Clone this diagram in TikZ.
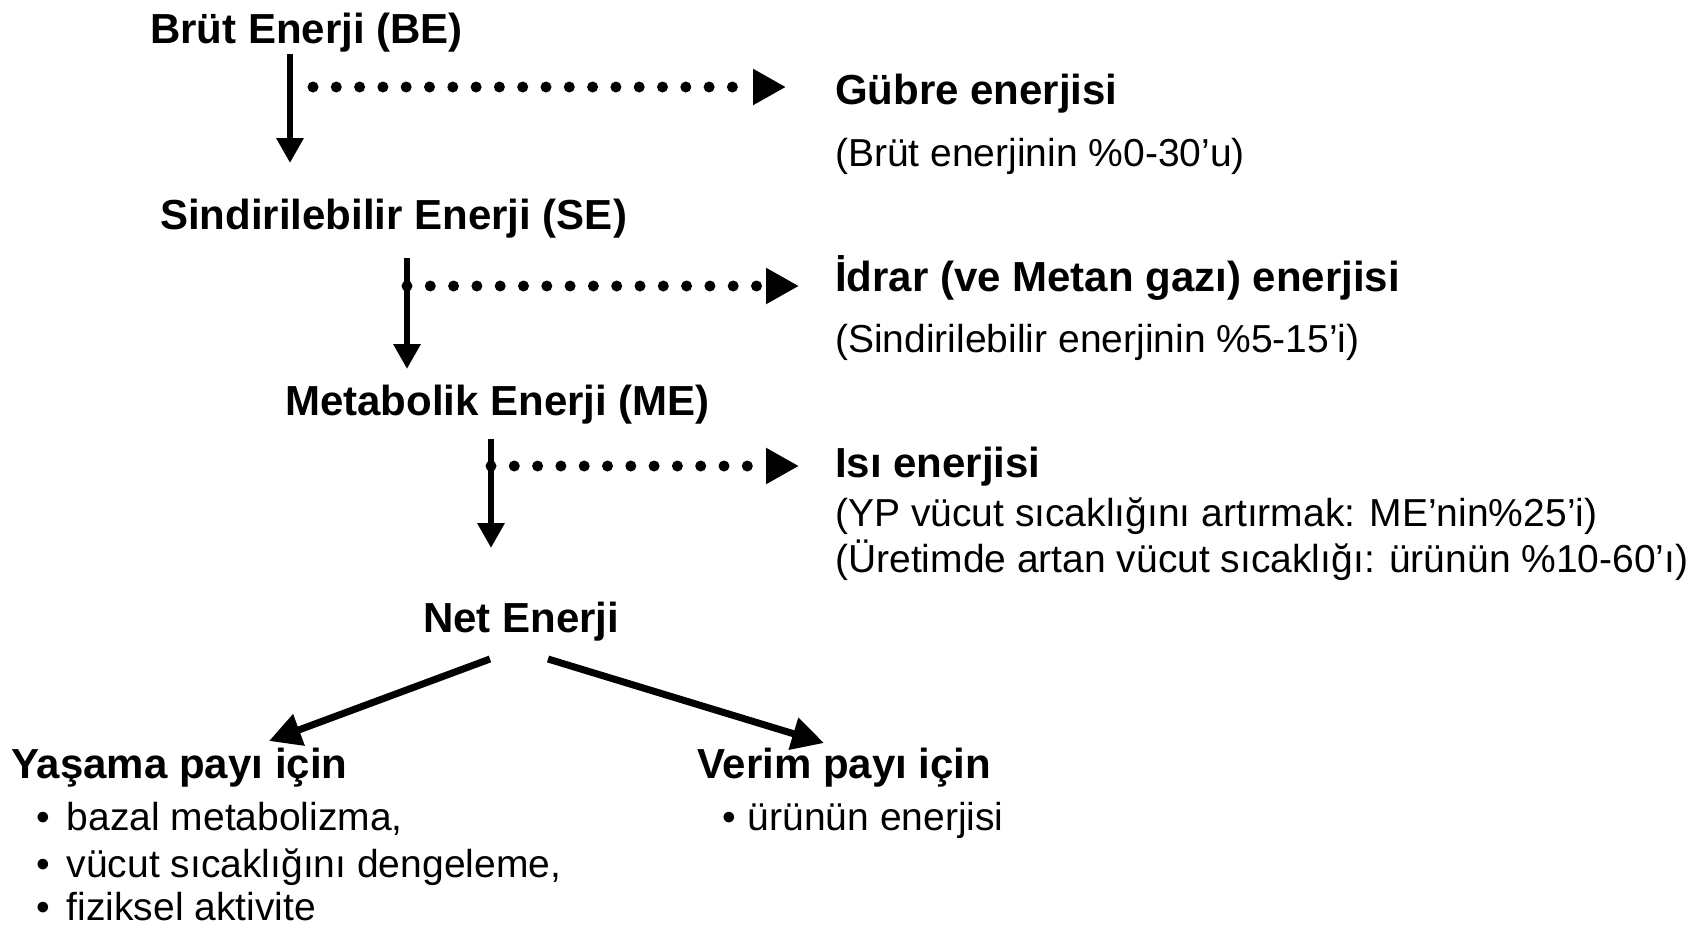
\documentclass[tikz,border=0pt]{standalone}
\usepackage{fontspec}
\setmainfont{Liberation Sans}
\usetikzlibrary{arrows.meta}
\begin{document}
\begin{tikzpicture}[x=1pt,y=-1pt,
  boldtxt/.style={font=\fontsize{42}{48}\selectfont\bfseries, anchor=base west, inner sep=0pt},
  regtxt/.style={font=\fontsize{39}{45}\selectfont, anchor=base west, inner sep=0pt},
  downarrow/.style={line width=6.5pt, -{Triangle[length=25pt,width=26pt]}},
  dotarrow/.style={line width=11pt, line cap=round, dash pattern=on 0pt off 23.3pt, -{Triangle[length=33pt,width=34pt]}},
  splitarrow/.style={line width=7pt, -{Triangle[length=32pt,width=32pt]}}]
\useasboundingbox (0,0) rectangle (1700,927);

% main chain
\node[boldtxt] (BE) at (150,43) {Brüt Enerji (BE)};
\node[boldtxt] (SE) at (160,229) {Sindirilebilir Enerji (SE)};
\node[boldtxt] (ME) at (285,415) {Metabolik Enerji (ME)};
\node[boldtxt] (NE) at (423,632) {Net Enerji};

% losses
\node[boldtxt] (G) at (835,104) {Gübre enerjisi};
\node[regtxt] (Gd) at (835,166) {(Brüt enerjinin \%0-30’u)};
\node[boldtxt] (I) at (835,291) {İdrar (ve Metan gazı) enerjisi};
\node[regtxt] (Id) at (835,352) {(Sindirilebilir enerjinin \%5-15’i)};
\node[boldtxt] (H) at (835,477) {Isı enerjisi};
\node[regtxt] (Hd1) at (835,526) {(YP vücut sıcaklığını artırmak: ME’nin\%25’i)};
\node[regtxt] (Hd2) at (835,572) {(Üretimde artan vücut sıcaklığı: ürünün \%10-60’ı)};

% uses
\node[boldtxt] (Y) at (11,778) {Yaşama payı için};
\node[regtxt] (Y1) at (36,830) {•\hspace{17pt}bazal metabolizma,};
\node[regtxt] (Y2) at (36,877) {•\hspace{17pt}vücut sıcaklığını dengeleme,};
\node[regtxt] (Y3) at (36,920) {•\hspace{17pt}fiziksel aktivite};
\node[boldtxt] (V) at (697,778) {Verim payı için};
\node[regtxt] (V1) at (722,830) {•\hspace{12pt}ürünün enerjisi};

% connector points
\coordinate (a1s) at (290,54);  \coordinate (a1e) at (290,163);
\coordinate (d1s) at (313,87);  \coordinate (d1e) at (786,87);
\coordinate (a2s) at (407,258); \coordinate (a2e) at (407,369);
\coordinate (d2s) at (407,286); \coordinate (d2e) at (799,286);
\coordinate (a3s) at (491,439); \coordinate (a3e) at (491,548);
\coordinate (d3s) at (491,466); \coordinate (d3e) at (799,466);
\coordinate (n1s) at (490,659); \coordinate (n1e) at (269,741);
\coordinate (n2s) at (548,659); \coordinate (n2e) at (824,743);

\draw[downarrow] (a1s) -- (a1e);
\draw[dotarrow] (d1s) -- (d1e);
\draw[downarrow] (a2s) -- (a2e);
\draw[dotarrow] (d2s) -- (d2e);
\draw[downarrow] (a3s) -- (a3e);
\draw[dotarrow] (d3s) -- (d3e);
\draw[splitarrow] (n1s) -- (n1e);
\draw[splitarrow] (n2s) -- (n2e);
\end{tikzpicture}
\end{document}
